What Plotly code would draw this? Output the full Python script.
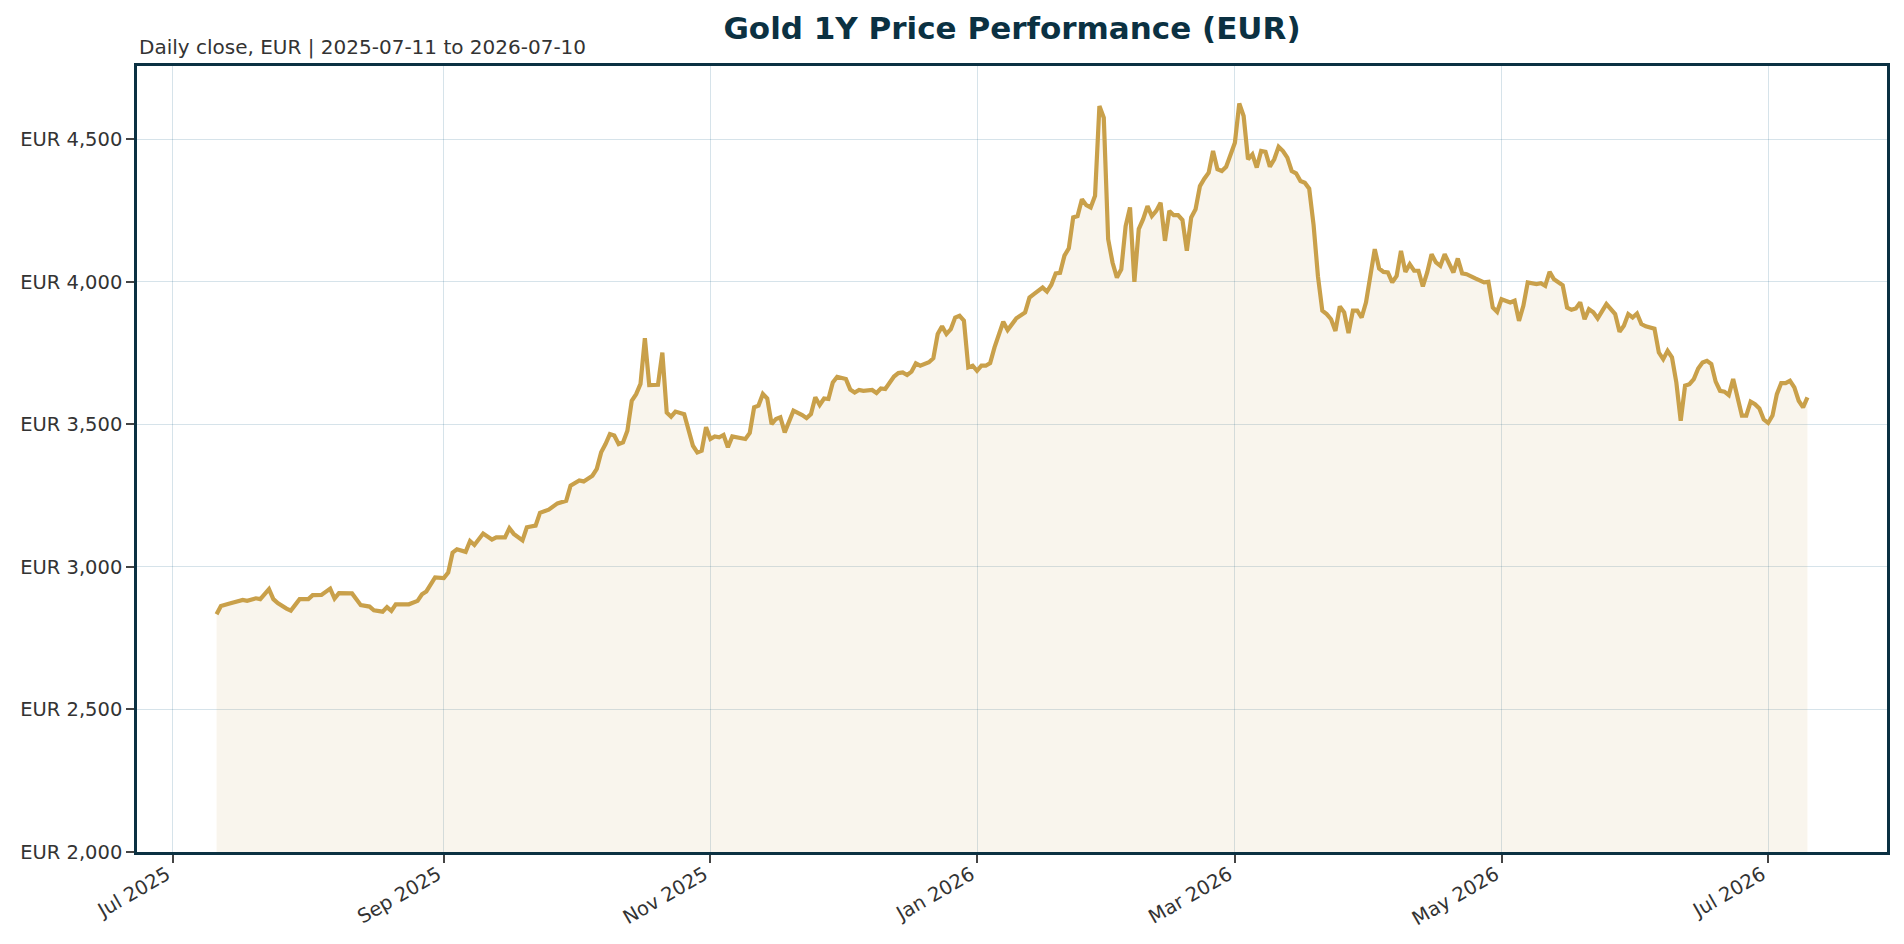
import plotly.graph_objects as go
import pandas as pd

dates = [
    "2025-07-11", "2025-07-12", "2025-07-14", "2025-07-15", "2025-07-17", "2025-07-18", "2025-07-20", "2025-07-21",
    "2025-07-23", "2025-07-24", "2025-07-25", "2025-07-27", "2025-07-28", "2025-07-30",
    "2025-08-01", "2025-08-02", "2025-08-04", "2025-08-06", "2025-08-07", "2025-08-08", "2025-08-11", "2025-08-13",
    "2025-08-15", "2025-08-16", "2025-08-18", "2025-08-19", "2025-08-20", "2025-08-21", "2025-08-24", "2025-08-26",
    "2025-08-27", "2025-08-28", "2025-08-30",
    "2025-09-01", "2025-09-02", "2025-09-03", "2025-09-04", "2025-09-06", "2025-09-07", "2025-09-08", "2025-09-10",
    "2025-09-12", "2025-09-13", "2025-09-15", "2025-09-16", "2025-09-17", "2025-09-19", "2025-09-20", "2025-09-22",
    "2025-09-23", "2025-09-25", "2025-09-27", "2025-09-28", "2025-09-29", "2025-09-30",
    "2025-10-02", "2025-10-03", "2025-10-05", "2025-10-06", "2025-10-07", "2025-10-08", "2025-10-09", "2025-10-10",
    "2025-10-11", "2025-10-12", "2025-10-13", "2025-10-14", "2025-10-15", "2025-10-16", "2025-10-17", "2025-10-18",
    "2025-10-20", "2025-10-21", "2025-10-22", "2025-10-23", "2025-10-24", "2025-10-26", "2025-10-27", "2025-10-28",
    "2025-10-29", "2025-10-30", "2025-10-31",
    "2025-11-01", "2025-11-02", "2025-11-03", "2025-11-04", "2025-11-05", "2025-11-06", "2025-11-08", "2025-11-09",
    "2025-11-10", "2025-11-11", "2025-11-12", "2025-11-13", "2025-11-14", "2025-11-15", "2025-11-16", "2025-11-17",
    "2025-11-18", "2025-11-20", "2025-11-22", "2025-11-23", "2025-11-24", "2025-11-25", "2025-11-26", "2025-11-27",
    "2025-11-28", "2025-11-29", "2025-11-30",
    "2025-12-02", "2025-12-03", "2025-12-04", "2025-12-05", "2025-12-06", "2025-12-08", "2025-12-09", "2025-12-10",
    "2025-12-11", "2025-12-13", "2025-12-14", "2025-12-15", "2025-12-16", "2025-12-17", "2025-12-18", "2025-12-19",
    "2025-12-20", "2025-12-21", "2025-12-22", "2025-12-23", "2025-12-24", "2025-12-25", "2025-12-26", "2025-12-27",
    "2025-12-28", "2025-12-29", "2025-12-30", "2025-12-31",
    "2026-01-01", "2026-01-02", "2026-01-03", "2026-01-04", "2026-01-05", "2026-01-06", "2026-01-07", "2026-01-08",
    "2026-01-10", "2026-01-12", "2026-01-13", "2026-01-14", "2026-01-16", "2026-01-17", "2026-01-18", "2026-01-19",
    "2026-01-20", "2026-01-21", "2026-01-22", "2026-01-23", "2026-01-24", "2026-01-25", "2026-01-26", "2026-01-27",
    "2026-01-28", "2026-01-29", "2026-01-30", "2026-01-31",
    "2026-02-01", "2026-02-02", "2026-02-03", "2026-02-04", "2026-02-05", "2026-02-06", "2026-02-07", "2026-02-08",
    "2026-02-09", "2026-02-10", "2026-02-11", "2026-02-12", "2026-02-13", "2026-02-14", "2026-02-15", "2026-02-16",
    "2026-02-17", "2026-02-18", "2026-02-19", "2026-02-20", "2026-02-21", "2026-02-22", "2026-02-23", "2026-02-24",
    "2026-02-25", "2026-02-26", "2026-02-27",
    "2026-03-01", "2026-03-02", "2026-03-03", "2026-03-04", "2026-03-05", "2026-03-06", "2026-03-07", "2026-03-08",
    "2026-03-09", "2026-03-10", "2026-03-11", "2026-03-12", "2026-03-13", "2026-03-14", "2026-03-15", "2026-03-16",
    "2026-03-17", "2026-03-18", "2026-03-19", "2026-03-20", "2026-03-21", "2026-03-22", "2026-03-23", "2026-03-24",
    "2026-03-25", "2026-03-26", "2026-03-27", "2026-03-28", "2026-03-29", "2026-03-30", "2026-03-31",
    "2026-04-01", "2026-04-02", "2026-04-03", "2026-04-04", "2026-04-05", "2026-04-06", "2026-04-07", "2026-04-08",
    "2026-04-09", "2026-04-10", "2026-04-11", "2026-04-12", "2026-04-13", "2026-04-14", "2026-04-15", "2026-04-16",
    "2026-04-17", "2026-04-18", "2026-04-20", "2026-04-21", "2026-04-22", "2026-04-23", "2026-04-25", "2026-04-26",
    "2026-04-27", "2026-04-28", "2026-04-29", "2026-04-30",
    "2026-05-01", "2026-05-03", "2026-05-04", "2026-05-05", "2026-05-06", "2026-05-07", "2026-05-09", "2026-05-10",
    "2026-05-11", "2026-05-12", "2026-05-13", "2026-05-15", "2026-05-16", "2026-05-17", "2026-05-18", "2026-05-19",
    "2026-05-20", "2026-05-21", "2026-05-22", "2026-05-23", "2026-05-25", "2026-05-27", "2026-05-28", "2026-05-29",
    "2026-05-30", "2026-05-31",
    "2026-06-01", "2026-06-02", "2026-06-03", "2026-06-05", "2026-06-06", "2026-06-07", "2026-06-08", "2026-06-09",
    "2026-06-10", "2026-06-11", "2026-06-12", "2026-06-13", "2026-06-14", "2026-06-15", "2026-06-16", "2026-06-17",
    "2026-06-18", "2026-06-19", "2026-06-20", "2026-06-21", "2026-06-22", "2026-06-23", "2026-06-24", "2026-06-25",
    "2026-06-26", "2026-06-27", "2026-06-28", "2026-06-29", "2026-06-30",
    "2026-07-01", "2026-07-02", "2026-07-03", "2026-07-04", "2026-07-05", "2026-07-06", "2026-07-07", "2026-07-08",
    "2026-07-09", "2026-07-10",
]

prices = [
    2834, 2863, 2872, 2877, 2884, 2881, 2890, 2887,
    2922, 2887, 2873, 2854, 2847, 2887,
    2887, 2901, 2902, 2924, 2889, 2908, 2907, 2866,
    2861, 2848, 2843, 2859, 2846, 2869, 2869, 2881,
    2904, 2914, 2963,
    2961, 2980, 3050, 3062, 3053, 3091, 3077, 3117,
    3096, 3104, 3104, 3136, 3116, 3093, 3139, 3145,
    3190, 3201, 3223, 3229, 3232, 3285,
    3303, 3300, 3320, 3344, 3402, 3431, 3466, 3461,
    3431, 3437, 3478, 3583, 3606, 3642, 3802, 3638,
    3639, 3752, 3542, 3527, 3545, 3536, 3484, 3425,
    3402, 3408, 3490,
    3449, 3458, 3455, 3463, 3420, 3458, 3452, 3449,
    3470, 3560, 3566, 3607, 3591, 3501, 3519, 3525,
    3472, 3548, 3533, 3522, 3536, 3595, 3568, 3591,
    3589, 3647, 3667,
    3659, 3622, 3612, 3621, 3618, 3621, 3610, 3626,
    3624, 3668, 3680, 3682, 3673, 3685, 3714, 3706,
    3714, 3718, 3732, 3817, 3844, 3817, 3834, 3875,
    3881, 3864, 3700, 3706,
    3688, 3706, 3706, 3715, 3770, 3817, 3860, 3831,
    3872, 3893, 3945, 3957, 3980, 3966, 3990, 4030,
    4032, 4092, 4118, 4226, 4231, 4290, 4269, 4261,
    4302, 4617, 4576, 4150,
    4068, 4015, 4044, 4196, 4261, 4000, 4185, 4220,
    4266, 4231, 4249, 4278, 4144, 4249, 4234, 4234,
    4217, 4109, 4226, 4255, 4336, 4362, 4383, 4459,
    4395, 4389, 4404,
    4488, 4626, 4582, 4430, 4447, 4401, 4459, 4456,
    4404, 4430, 4474, 4459, 4436, 4389, 4381, 4354,
    4348, 4327, 4200, 4020, 3899, 3887, 3869, 3828,
    3914, 3893, 3820, 3899, 3899, 3875, 3928,
    4033, 4115, 4047, 4035, 4033, 3998, 4021, 4109,
    4035, 4062, 4039, 4039, 3984, 4033, 4097, 4068,
    4056, 4097, 4033, 4082, 4030, 4027, 4012, 4004,
    3998, 4000, 3910, 3895,
    3939, 3928, 3934, 3863, 3916, 3998, 3992, 3995,
    3986, 4035, 4009, 3988, 3910, 3902, 3907, 3928,
    3869, 3904, 3893, 3872, 3922, 3887, 3825, 3846,
    3887, 3875,
    3889, 3852, 3844, 3836, 3752, 3729, 3758, 3735,
    3647, 3513, 3636, 3641, 3659, 3696, 3717, 3723,
    3712, 3650, 3618, 3615, 3603, 3659, 3589, 3531,
    3531, 3580, 3571, 3556, 3517,
    3505, 3531, 3606, 3645, 3645, 3653, 3630, 3583,
    3560, 3595,
]

title_text = "Gold 1Y Price Performance (EUR)"
subtitle_text = "Daily close, EUR | 2025-07-11 to 2026-07-10"
y_floor = 2000
y_ticks = [2000, 2500, 3000, 3500, 4000, 4500]
y_tick_labels = [f"EUR {v:,}" for v in y_ticks]

NAVY = "#0b3142"
GOLD = "#c9a04a"
FONT = "DejaVu Sans"

x = pd.to_datetime(dates)
span = x.max() - x.min()
x_range = [x.min() - 0.05 * span, x.max() + 0.05 * span]
y_top = max(prices) + 0.05 * (max(prices) - y_floor)

fig = go.Figure()
fig.add_trace(go.Scatter(
    x=x, y=prices, mode="lines",
    line=dict(color=GOLD, width=4.2),
    fill="tozeroy", fillcolor="rgba(201,160,74,0.10)",
    hoverinfo="skip", showlegend=False,
))

axis_common = dict(
    showline=True, linecolor=NAVY, linewidth=2.5, mirror=True,
    showgrid=True, gridcolor="rgba(11,90,130,0.17)", gridwidth=1.2,
    ticks="outside", ticklen=8, tickwidth=1.6, tickcolor="#444444",
    tickfont=dict(family=FONT, size=19.5, color="#333333"),
    zeroline=False,
)

fig.update_xaxes(
    **axis_common,
    type="date", range=x_range,
    tick0="2025-07-01", dtick="M2", tickformat="%b %Y", tickangle=-30,
    ticklabelstandoff=-7, ticklabelshift=-6,
)
fig.update_yaxes(
    **axis_common,
    range=[y_floor, y_top], tickvals=y_ticks, ticktext=y_tick_labels,
)

fig.update_layout(
    width=1904, height=944,
    margin=dict(l=137, r=17, t=66, b=92),
    paper_bgcolor="white", plot_bgcolor="white",
    font=dict(family=FONT, color="#333333"),
    title=dict(
        text=f"<b>{title_text}</b>", x=0.5, xref="paper", xanchor="center",
        y=1 - 28 / 944, yref="container", yanchor="middle",
        font=dict(family=FONT, size=31, color=NAVY),
    ),
    annotations=[dict(
        text=subtitle_text, xref="paper", yref="paper", x=0, y=1 + 19 / 786,
        xanchor="left", yanchor="middle", showarrow=False,
        font=dict(family=FONT, size=20, color="#333333"),
    )],
)

fig.write_html("out.html")
